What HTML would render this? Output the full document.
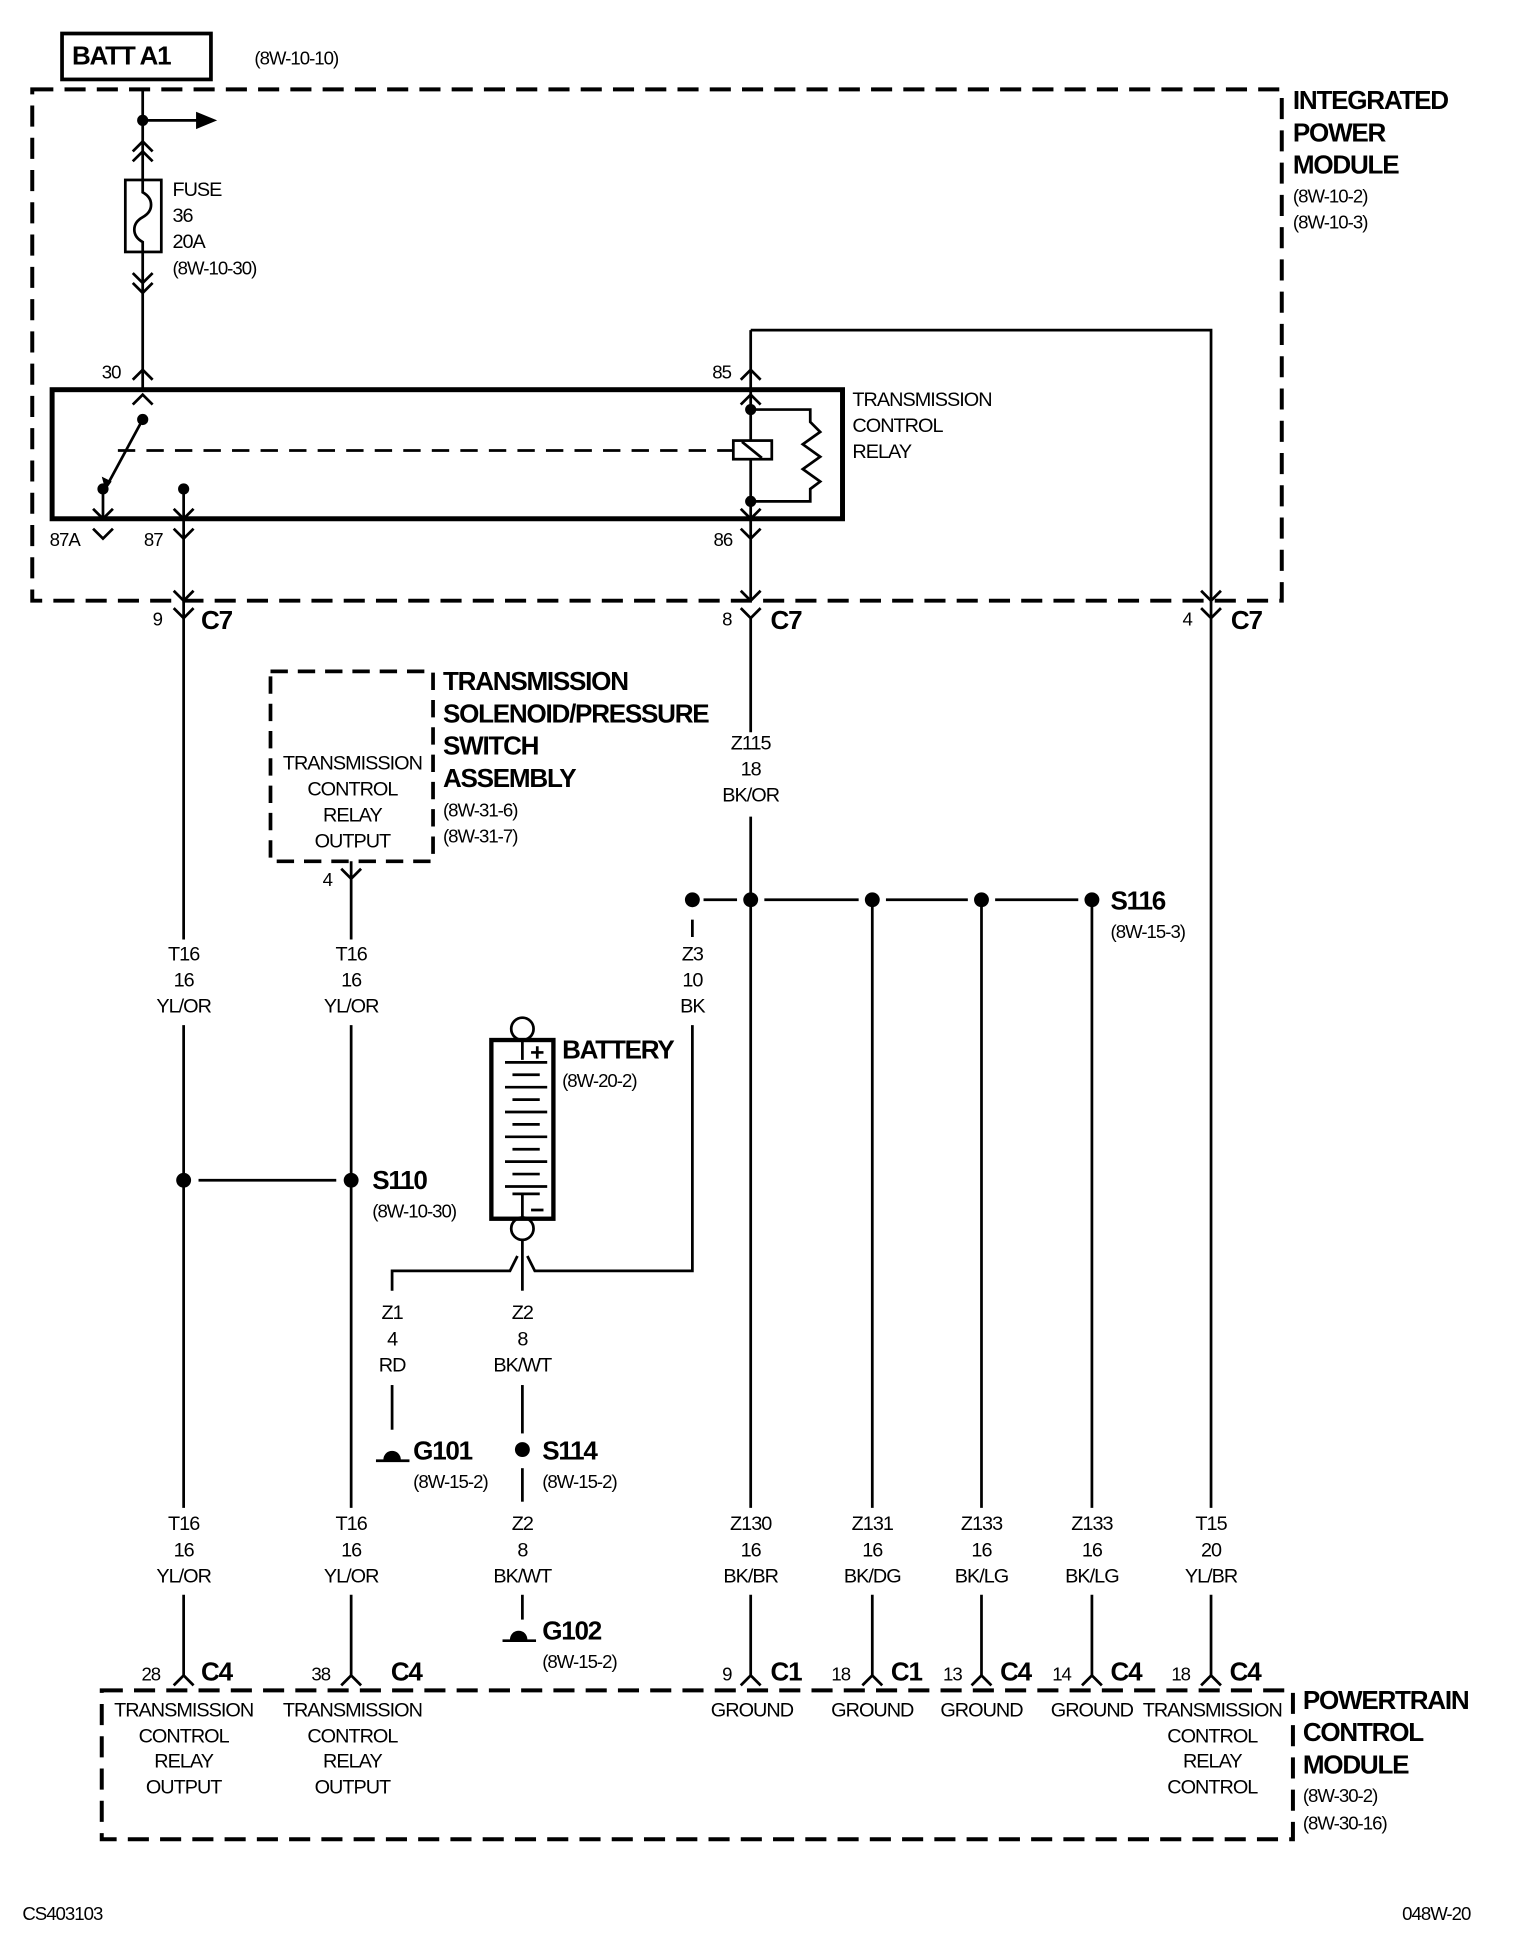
<!DOCTYPE html>
<html><head><meta charset="utf-8"><style>
html,body{margin:0;padding:0;background:#fff}
svg{display:block}
text{font-family:"Liberation Sans Narrow","Liberation Sans",sans-serif;font-size:16px;fill:#000;letter-spacing:-0.8px}
.b{font-weight:bold;font-size:21px;letter-spacing:-1px}
.s{font-size:15px}
.m{text-anchor:middle}
</style></head><body>
<svg width="1520" height="1946" viewBox="0 0 1225 1568" preserveAspectRatio="none" xmlns="http://www.w3.org/2000/svg">
<g fill="none" stroke="#000" stroke-width="2.2">
<rect x="50" y="27" width="120" height="37" stroke-width="3"/>
<path d="M26 72 H1033 V484 H26 Z" stroke-width="3.2" stroke-dasharray="17 9"/>
<path d="M82 1362 H1042 V1482 H82 Z" stroke-width="3.2" stroke-dasharray="17 9"/>
<path d="M218 541 H349 V694 H218 Z" stroke-width="3" stroke-dasharray="14 8"/>
<rect x="42" y="314" width="637" height="104" stroke-width="4"/>
<line x1="115" y1="72" x2="115" y2="145"/>
<line x1="115" y1="203" x2="115" y2="314"/>
<line x1="115" y1="97" x2="160" y2="97"/>
<path d="M107 122 L115 114 L123 122 M107 130 L115 122 L123 130"/>
<path d="M107 220 L115 228 L123 220 M107 228 L115 236 L123 228"/>
<rect x="101" y="145" width="29" height="58"/>
<path d="M115 145 V155 C124 160 124 170 115 175 C106 180 106 190 115 195 V203"/>
<path d="M107 306 L115 298 L123 306"/>
<path d="M107 326 L115 318 L123 326"/>
<line x1="115" y1="338" x2="88" y2="388"/>
<line x1="83" y1="394" x2="83" y2="418"/>
<path d="M75 410 L83 418 L91 410"/>
<line x1="148" y1="394" x2="148" y2="484"/>
<path d="M140 410 L148 418 L156 410"/>
<line x1="95" y1="363" x2="590" y2="363" stroke-dasharray="14 9"/>
<line x1="605" y1="266" x2="605" y2="484"/>
<path d="M597 306 L605 298 L613 306"/>
<path d="M597 326 L605 318 L613 326"/>
<path d="M597 410 L605 418 L613 410"/>
<rect x="591" y="355" width="31" height="15" fill="#fff"/>
<line x1="598" y1="356" x2="614" y2="369"/>
<path d="M605 330 H653 V340 L661 348 L647 358 L661 368 L647 378 L661 388 L653 394 V404 H605"/>
<path d="M605 266 H976 V484"/>
<path d="M75 426 L83 434 L91 426"/>
<path d="M140 426 L148 434 L156 426"/>
<path d="M597 426 L605 434 L613 426"/>
<path d="M140 476 L148 484 L156 476"/>
<path d="M597 476 L605 484 L613 476"/>
<path d="M968 476 L976 484 L984 476"/>
<path d="M140 490 L148 498 L156 490"/>
<path d="M597 490 L605 498 L613 490"/>
<path d="M968 490 L976 498 L984 490"/>
<line x1="148" y1="484" x2="148" y2="757"/>
<line x1="148" y1="826" x2="148" y2="1215"/>
<line x1="148" y1="1285" x2="148" y2="1350"/>
<line x1="283" y1="694" x2="283" y2="757"/>
<line x1="283" y1="826" x2="283" y2="1215"/>
<line x1="283" y1="1285" x2="283" y2="1350"/>
<path d="M275 700 L283 708 L291 700"/>
<line x1="160" y1="951" x2="271" y2="951"/>
<line x1="605" y1="498" x2="605" y2="590"/>
<line x1="605" y1="658" x2="605" y2="1215"/>
<line x1="605" y1="1285" x2="605" y2="1350"/>
<line x1="703" y1="725" x2="703" y2="1215"/>
<line x1="703" y1="1285" x2="703" y2="1350"/>
<line x1="791" y1="725" x2="791" y2="1215"/>
<line x1="791" y1="1285" x2="791" y2="1350"/>
<line x1="880" y1="725" x2="880" y2="1215"/>
<line x1="880" y1="1285" x2="880" y2="1350"/>
<line x1="976" y1="484" x2="976" y2="1215"/>
<line x1="976" y1="1285" x2="976" y2="1350"/>
<line x1="567" y1="725" x2="594" y2="725"/>
<line x1="616" y1="725" x2="692" y2="725"/>
<line x1="714" y1="725" x2="780" y2="725"/>
<line x1="802" y1="725" x2="869" y2="725"/>
<line x1="558" y1="741" x2="558" y2="755"/>
<path d="M558 826 V1024 H431 L425 1012"/>
<path d="M316 1040 V1024 H411 L417 1012"/>
<line x1="421" y1="999" x2="421" y2="1040"/>
<line x1="316" y1="1116" x2="316" y2="1152"/>
<line x1="421" y1="1116" x2="421" y2="1155"/>
<line x1="421" y1="1183" x2="421" y2="1210"/>
<line x1="421" y1="1285" x2="421" y2="1305"/>
<path d="M140 1358 L148 1350 L156 1358"/>
<path d="M275 1358 L283 1350 L291 1358"/>
<path d="M597 1358 L605 1350 L613 1358"/>
<path d="M695 1358 L703 1350 L711 1358"/>
<path d="M783 1358 L791 1350 L799 1358"/>
<path d="M872 1358 L880 1350 L888 1358"/>
<path d="M968 1358 L976 1350 L984 1358"/>
<circle cx="421" cy="829" r="9"/>
<circle cx="421" cy="990" r="9"/>
<rect x="396" y="838" width="50" height="144" stroke-width="3.5"/>
<path d="M421 838 V854 M407 856 H441 M413 866 H435 M407 876 H441 M413 886 H435 M407 896 H441 M413 906 H435 M407 916 H441 M413 926 H435 M407 936 H441 M413 946 H435 M407 956 H441 M413 962 H435 M421 962 V982"/>
<path d="M428 848 H438 M433 843 V853 M428 975 H438"/>
<path d="M303 1177 H330 M405 1322 H432"/>
</g>
<g fill="#000">
<polygon points="158,90 175,97 158,104"/>
<polygon points="85,395 82,384 90,388"/>
<circle cx="115" cy="97" r="4.5"/><circle cx="115" cy="338" r="4.5"/>
<circle cx="83" cy="394" r="4.5"/><circle cx="148" cy="394" r="4.5"/>
<circle cx="605" cy="330" r="4.5"/><circle cx="605" cy="404" r="4.5"/>
<circle cx="148" cy="951" r="6"/><circle cx="283" cy="951" r="6"/>
<circle cx="558" cy="725" r="6"/><circle cx="605" cy="725" r="6"/><circle cx="703" cy="725" r="6"/><circle cx="791" cy="725" r="6"/><circle cx="880" cy="725" r="6"/>
<circle cx="421" cy="1168" r="6"/>
<path d="M309 1176 a7 7 0 0 1 14 0 Z"/>
<path d="M411 1321 a7 7 0 0 1 14 0 Z"/>
</g>
<text x="58" y="52" class="b">BATT A1</text>
<text x="205" y="52" class="s">(8W-10-10)</text>
<text x="1042" y="88" class="b">INTEGRATED</text>
<text x="1042" y="114" class="b">POWER</text>
<text x="1042" y="140" class="b">MODULE</text>
<text x="1042" y="163" class="s">(8W-10-2)</text>
<text x="1042" y="184" class="s">(8W-10-3)</text>
<text x="139" y="158">FUSE</text><text x="139" y="179">36</text><text x="139" y="200">20A</text><text x="139" y="221" class="s">(8W-10-30)</text>
<text x="82" y="305" class="s">30</text><text x="574" y="305" class="s">85</text>
<text x="40" y="440" class="s">87A</text><text x="116" y="440" class="s">87</text><text x="575" y="440" class="s">86</text>
<text x="687" y="327">TRANSMISSION</text><text x="687" y="348">CONTROL</text><text x="687" y="369">RELAY</text>
<text x="123" y="504" class="s">9</text><text x="162" y="507" class="b">C7</text>
<text x="582" y="504" class="s">8</text><text x="621" y="507" class="b">C7</text>
<text x="953" y="504" class="s">4</text><text x="992" y="507" class="b">C7</text>
<text x="357" y="556" class="b">TRANSMISSION</text>
<text x="357" y="582" class="b">SOLENOID/PRESSURE</text>
<text x="357" y="608" class="b">SWITCH</text>
<text x="357" y="634" class="b">ASSEMBLY</text>
<text x="357" y="658" class="s">(8W-31-6)</text><text x="357" y="679" class="s">(8W-31-7)</text>
<text x="284" y="620" class="m">TRANSMISSION</text><text x="284" y="641" class="m">CONTROL</text><text x="284" y="662" class="m">RELAY</text><text x="284" y="683" class="m">OUTPUT</text>
<text x="260" y="714" class="s">4</text>
<text x="605" y="604" class="m">Z115</text><text x="605" y="625" class="m">18</text><text x="605" y="646" class="m">BK/OR</text>
<text x="895" y="733" class="b">S116</text><text x="895" y="756" class="s">(8W-15-3)</text>
<text x="558" y="774" class="m">Z3</text><text x="558" y="795" class="m">10</text><text x="558" y="816" class="m">BK</text>
<text x="148" y="774" class="m">T16</text><text x="148" y="795" class="m">16</text><text x="148" y="816" class="m">YL/OR</text>
<text x="283" y="774" class="m">T16</text><text x="283" y="795" class="m">16</text><text x="283" y="816" class="m">YL/OR</text>
<text x="453" y="853" class="b">BATTERY</text><text x="453" y="876" class="s">(8W-20-2)</text>
<text x="300" y="958" class="b">S110</text><text x="300" y="981" class="s">(8W-10-30)</text>
<text x="316" y="1063" class="m">Z1</text><text x="316" y="1084" class="m">4</text><text x="316" y="1105" class="m">RD</text>
<text x="421" y="1063" class="m">Z2</text><text x="421" y="1084" class="m">8</text><text x="421" y="1105" class="m">BK/WT</text>
<text x="333" y="1176" class="b">G101</text><text x="333" y="1199" class="s">(8W-15-2)</text>
<text x="437" y="1176" class="b">S114</text><text x="437" y="1199" class="s">(8W-15-2)</text>
<text x="421" y="1233" class="m">Z2</text><text x="421" y="1254" class="m">8</text><text x="421" y="1275" class="m">BK/WT</text>
<text x="437" y="1321" class="b">G102</text><text x="437" y="1344" class="s">(8W-15-2)</text>
<text x="148" y="1233" class="m">T16</text><text x="148" y="1254" class="m">16</text><text x="148" y="1275" class="m">YL/OR</text>
<text x="283" y="1233" class="m">T16</text><text x="283" y="1254" class="m">16</text><text x="283" y="1275" class="m">YL/OR</text>
<text x="605" y="1233" class="m">Z130</text><text x="605" y="1254" class="m">16</text><text x="605" y="1275" class="m">BK/BR</text>
<text x="703" y="1233" class="m">Z131</text><text x="703" y="1254" class="m">16</text><text x="703" y="1275" class="m">BK/DG</text>
<text x="791" y="1233" class="m">Z133</text><text x="791" y="1254" class="m">16</text><text x="791" y="1275" class="m">BK/LG</text>
<text x="880" y="1233" class="m">Z133</text><text x="880" y="1254" class="m">16</text><text x="880" y="1275" class="m">BK/LG</text>
<text x="976" y="1233" class="m">T15</text><text x="976" y="1254" class="m">20</text><text x="976" y="1275" class="m">YL/BR</text>
<text x="114" y="1354" class="s">28</text><text x="162" y="1354" class="b">C4</text>
<text x="251" y="1354" class="s">38</text><text x="315" y="1354" class="b">C4</text>
<text x="582" y="1354" class="s">9</text><text x="621" y="1354" class="b">C1</text>
<text x="670" y="1354" class="s">18</text><text x="718" y="1354" class="b">C1</text>
<text x="760" y="1354" class="s">13</text><text x="806" y="1354" class="b">C4</text>
<text x="848" y="1354" class="s">14</text><text x="895" y="1354" class="b">C4</text>
<text x="944" y="1354" class="s">18</text><text x="991" y="1354" class="b">C4</text>
<text x="148" y="1383" class="m">TRANSMISSION</text><text x="148" y="1404" class="m">CONTROL</text><text x="148" y="1424" class="m">RELAY</text><text x="148" y="1445" class="m">OUTPUT</text>
<text x="284" y="1383" class="m">TRANSMISSION</text><text x="284" y="1404" class="m">CONTROL</text><text x="284" y="1424" class="m">RELAY</text><text x="284" y="1445" class="m">OUTPUT</text>
<text x="606" y="1383" class="m">GROUND</text><text x="703" y="1383" class="m">GROUND</text><text x="791" y="1383" class="m">GROUND</text><text x="880" y="1383" class="m">GROUND</text>
<text x="977" y="1383" class="m">TRANSMISSION</text><text x="977" y="1404" class="m">CONTROL</text><text x="977" y="1424" class="m">RELAY</text><text x="977" y="1445" class="m">CONTROL</text>
<text x="1050" y="1377" class="b">POWERTRAIN</text><text x="1050" y="1403" class="b">CONTROL</text><text x="1050" y="1429" class="b">MODULE</text>
<text x="1050" y="1452" class="s">(8W-30-2)</text><text x="1050" y="1474" class="s">(8W-30-16)</text>
<text x="18" y="1547" class="s">CS403103</text>
<text x="1130" y="1547" class="s">048W-20</text>
</svg>
</body></html>
